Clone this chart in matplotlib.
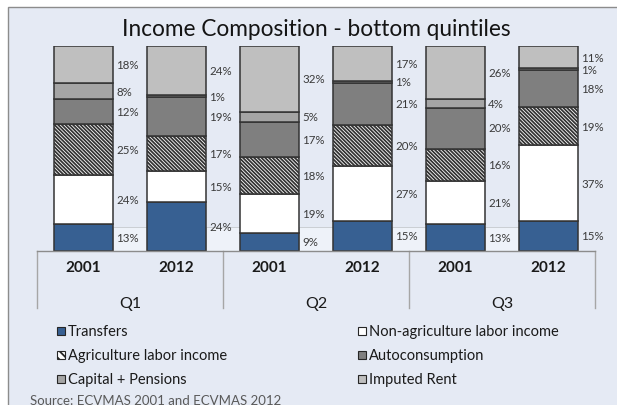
import numpy as np
import matplotlib.pyplot as plt
from matplotlib.patches import Rectangle

W, H = 617, 406

# ---------------------------------------------------------------- data
quintiles = ['Q1', 'Q2', 'Q3']
years = ['2001', '2012']
series = ['Transfers', 'Non-agriculture labor income', 'Agriculture labor income',
          'Autoconsumption', 'Capital + Pensions', 'Imputed Rent']

# one value per bar: Q1-2001, Q1-2012, Q2-2001, Q2-2012, Q3-2001, Q3-2012
transfers = [13, 24, 9, 15, 13, 15]
non_agri = [24, 15, 19, 27, 21, 37]
agri = [25, 17, 18, 20, 16, 19]
autocons = [12, 19, 17, 21, 20, 18]
capital = [8, 1, 5, 1, 4, 1]
rent = [18, 24, 32, 17, 26, 11]

colors = ['#376092', 'white', 'white', '#7F7F7F', '#A5A5A5', '#BFBFBF']
hatches = [None, None, '\\' * 9, None, None, None]

# ---------------------------------------------------------------- figure
plt.rcParams['font.family'] = ['Lato', 'DejaVu Sans']
plt.rcParams['hatch.linewidth'] = 1.3

fig = plt.figure(figsize=(W / 100, H / 100), dpi=100, facecolor='white')


def fx(x):
    return x / W


def fy(y):
    return 1 - y / H


# chart area background with border on left/top
fig.patches.append(Rectangle((fx(8), -0.05), 1.1, fy(8) + 0.05, transform=fig.transFigure,
                             facecolor='#E5EAF4', edgecolor='#8C8C8C', lw=1.0, zorder=-5))

ax = fig.add_axes([fx(37), fy(252), 558 / W, 205 / H])
ax.set_facecolor('none')
ax.set_xlim(-0.5, 5.5)
ax.set_ylim(0, 1)
for s in ax.spines.values():
    s.set_visible(False)
ax.set_xticks([])
ax.set_yticks([])

data = np.array([transfers, non_agri, agri, autocons, capital, rent], dtype=float)
totals = data.sum(axis=0)
shares = data / totals
x = np.arange(data.shape[1])
w = 0.645

bottom = np.zeros(len(x))
for k in range(len(series)):
    ax.bar(x, shares[k], bottom=bottom, width=w, color=colors[k], edgecolor='#333333',
           linewidth=1.1, hatch=hatches[k], zorder=3)
    for i in range(len(x)):
        ax.annotate(f'{int(data[k, i])}%', (x[i] + w / 2, bottom[i] + shares[k, i] / 2),
                    xytext=(2, 0), textcoords='offset points', ha='left', va='center',
                    fontsize=8.3, color='#3A3A3A', zorder=5)
    bottom += shares[k]

# light boxes behind the bottom labels
for i in range(len(x) - 1):
    ax.add_patch(Rectangle((x[i] + w / 2, 0), 1 - w, 0.115, facecolor='#EEF2F9',
                           edgecolor='#C6C9CE', lw=0.6, zorder=1, clip_on=False))

# category axis
ax.plot([-0.5, 5.5], [0, 0], color='#8C8C8C', lw=1.0, clip_on=False, zorder=4)
for xs in [-0.5, 1.5, 3.5, 5.5]:
    ax.plot([xs, xs], [0, -0.278], color='#A6A6A6', lw=1.0, clip_on=False)
for i in range(len(x)):
    ax.text(x[i], -0.078, years[i % 2], ha='center', va='center', fontsize=11,
            fontweight='bold', color='#1A1A1A')
for g in range(len(quintiles)):
    ax.text(2 * g + 0.5, -0.254, quintiles[g], ha='center', va='center', fontsize=11.5,
            color='#1A1A1A')

fig.text(fx(316), fy(30), 'Income Composition - bottom quintiles', ha='center', va='center',
         fontsize=16.3, color='#141414')

# legend
col_x = [57, 358]
row_y = [332, 356, 380]
for k in range(len(series)):
    mx, my = col_x[k % 2], row_y[k // 2]
    fig.patches.append(Rectangle((fx(mx), fy(my + 4)), 8 / W, 8 / H, transform=fig.transFigure,
                                 facecolor=colors[k], edgecolor='#262626', lw=0.8,
                                 hatch=None if hatches[k] is None else '\\' * 4))
    fig.text(fx(mx + 11), fy(my), series[k], ha='left', va='center', fontsize=10.5,
             color='#1A1A1A')

fig.text(fx(30), fy(401), 'Source: ECVMAS 2001 and ECVMAS 2012', ha='left', va='center',
         fontsize=9.5, color='#595959')

fig.savefig('out.png', dpi=100, facecolor='white')
